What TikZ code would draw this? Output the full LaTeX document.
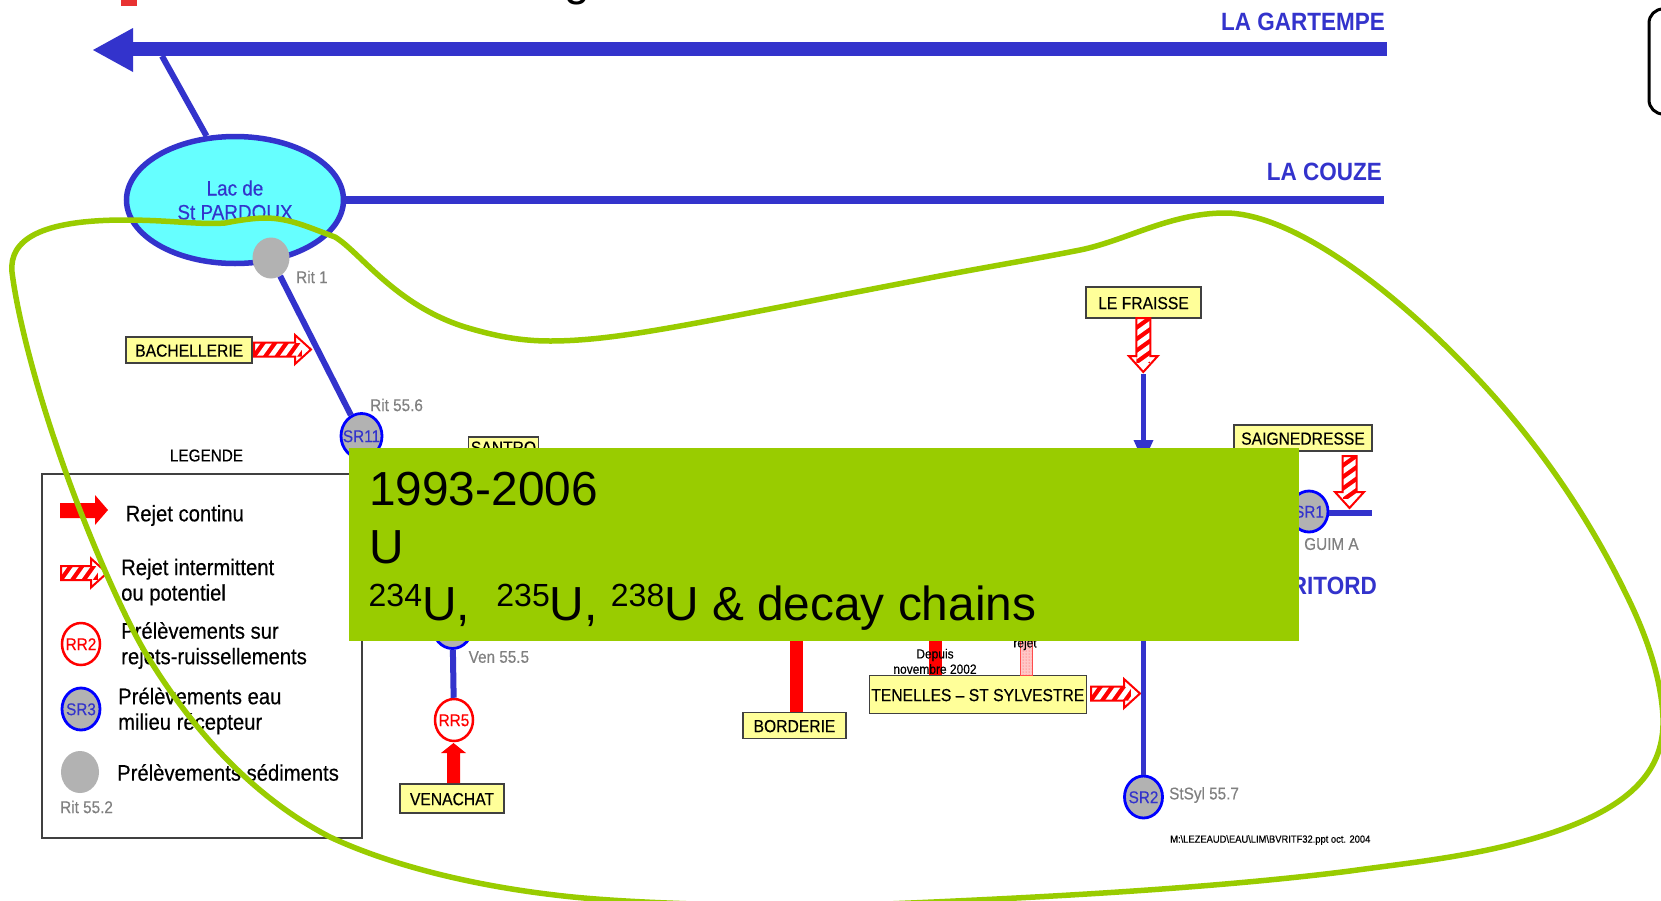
\documentclass[tikz,border=0pt]{standalone}
\usepackage{fontspec}
\setmainfont{Liberation Sans}
\newfontfamily\nar[FakeStretch=0.9,FakeBold=0.35]{Liberation Sans}
\newfontfamily\narb[FakeStretch=0.9]{Liberation Sans Bold}
\usetikzlibrary{shapes.geometric,patterns}
\definecolor{riverblue}{HTML}{3333CC}
\definecolor{purered}{HTML}{FF0000}
\definecolor{boxyellow}{HTML}{FFFF99}
\definecolor{leafgreen}{HTML}{99CC00}
\definecolor{sedgray}{HTML}{B2B2B2}
\definecolor{labgray}{HTML}{808080}
\definecolor{boxline}{HTML}{404040}
\definecolor{lakecyan}{HTML}{66FFFF}
\definecolor{titlered}{HTML}{E83232}
\newcommand{\sz}[1]{\fontsize{#1}{#1}\selectfont}
\newcommand{\ptx}[1]{\makebox[0pt]{\raisebox{-0.36em}[0pt][0pt]{#1}}}
\newcommand{\hatcharrow}[2]{%
  \begin{scope}[#1]
    \pgfmathsetmacro{\hb}{#2-16}
    \fill[white] (0,-7) -- (\hb,-7) -- (\hb,-15) -- (#2,0) -- (\hb,15) -- (\hb,7) -- (0,7) -- cycle;
    \begin{scope}
      \clip (0,-7) -- (\hb,-7) -- (\hb+7,-7) -- (\hb+7,7) -- (0,7) -- cycle;
      \fill[purered] (0,-7) rectangle (\hb+7,7);
      \foreach \k in {0,1,2,3,4,5} {
        \fill[white] ({-9+\k*11.5},7) -- ({-3+\k*11.5},7) -- ({7+\k*11.5},-7) -- ({1+\k*11.5},-7) -- cycle;
      }
    \end{scope}
    \draw[purered,line width=2,line join=miter] (0,-7) -- (\hb,-7) -- (\hb,-14.5) -- (#2,0) -- (\hb,14.5) -- (\hb,7) -- (0,7) -- cycle;
  \end{scope}}
\tikzset{
  namebox/.style={draw=boxline,fill=boxyellow,line width=1.5,inner sep=0,font=\nar\sz{17.4},text=black,text height=13.2pt,text depth=0pt},
  riverlabel/.style={inner sep=0,font=\narb\sz{25},text=riverblue},
  graylabel/.style={inner sep=0,font=\nar\sz{17},text=labgray},
  legendtext/.style={inner sep=0,anchor=west,align=left,font=\nar\fontsize{22.5}{25.5}\selectfont,text=black},
  bluepoint/.style={ellipse,draw=blue,fill=sedgray,line width=2.8,inner sep=0,font=\nar\sz{17},text=riverblue},
  redpoint/.style={ellipse,draw=purered,fill=white,line width=2.5,inner sep=0,font=\nar\sz{17},text=purered},
  sedpoint/.style={ellipse,fill=sedgray,inner sep=0},
  river/.style={draw=riverblue,line width=6},
  redbar/.style={draw=purered,line width=13},
  smalltext/.style={inner sep=0,font=\nar\sz{13.3},text=black},
  bigtext/.style={inner sep=0,anchor=base west,font=\sz{47.8},text=black}
}
\begin{document}
\begin{tikzpicture}[x=1pt,y=-1pt]
\path[use as bounding box,fill=white] (0,0) rectangle (1661,900);
% cut-off title
\fill[titlered] (121,0) rectangle (137,6);
\node[inner sep=0,anchor=base,font=\sz{46}] (titleg) at (577,-4.5) {g};
% coordinates for free ends
\coordinate (gartL) at (133,49);
\coordinate (gartR) at (1387,49);
\coordinate (branch) at (162,56);
\coordinate (couzeR) at (1384,200);
% rivers
\draw[draw=riverblue,line width=14] (gartL) -- (gartR);
\fill[riverblue] (93,50) -- (133,28) -- (133,72) -- cycle;
\node[riverlabel,anchor=east] (gartlab) at (1385,22) {LA GARTEMPE};
\node[riverlabel,anchor=east] (couzelab) at (1382,172) {LA COUZE};
\node[riverlabel,anchor=east] (ritordlab) at (1377,586) {RITORD};
% lake
\node[ellipse,draw=riverblue,fill=lakecyan,line width=5.5,minimum width=217,minimum height=127,inner sep=0,
      align=center,text=riverblue,font=\nar\fontsize{21}{24}\selectfont] (lake) at (235,200) {Lac de\\St PARDOUX};
\draw[draw=riverblue,line width=6] (branch) -- (lake.114);
\draw[draw=riverblue,line width=7.5] (lake.east) -- (couzeR);
% points on the river
\node[sedpoint,minimum width=37,minimum height=41] (rit1) at (271,258) {};
\node[bluepoint,minimum width=41,minimum height=45] (sr11) at (361.5,436) {\ptx{SR11}};
\draw[river] (rit1) -- (sr11);
\node[graylabel,anchor=west] (rit1lab) at (296,277) {Rit 1};
\node[graylabel,anchor=west] (rit56lab) at (370,405) {Rit 55.6};
\node[namebox,minimum width=126,minimum height=26] (bach) at (189.2,350) {BACHELLERIE};
\hatcharrow{shift={(254,349.5)}}{57}
\node[namebox,minimum width=70,minimum height=20] (santro) at (503.5,447) {SANTRO};
% Venachat branch
\node[bluepoint,minimum width=40,minimum height=45] (ven) at (452.5,626) {};
\node[redpoint,minimum width=38,minimum height=42] (rr5) at (454,720) {\ptx{RR5}};
\draw[river] (ven) -- (rr5);
\node[graylabel,anchor=west] (venlab) at (468.5,657) {Ven 55.5};
\node[namebox,minimum width=104,minimum height=29] (venachat) at (452,798.5) {VENACHAT};
\fill[purered] (447,783) -- (447,753) -- (441,753) -- (453.5,743) -- (466,753) -- (460,753) -- (460,783) -- cycle;
% Borderie
\coordinate (bordtop) at (796.5,620);
\node[namebox,minimum width=103,minimum height=26] (borderie) at (794.5,725.5) {BORDERIE};
\draw[redbar] (bordtop) -- (bordtop |- borderie.north);
% Tenelles
\coordinate (tentop) at (935,620);
\node[namebox,minimum width=217,minimum height=38] (tenelles) at (977.8,694.5) {TENELLES – ST SYLVESTRE};
\draw[redbar] (tentop) -- (tentop |- tenelles.north);
\fill[red!22] (1020,620) rectangle (1032.5,675);
\fill[pattern=dots,pattern color=red!70] (1020,620) rectangle (1032.5,675);
\draw[purered!70,line width=0.8] (1020,620) rectangle (1032.5,675);
\node[smalltext] (depuis) at (935,655) {Depuis};
\node[smalltext] (novembre) at (935,669) {novembre 2002};
\node[smalltext] (rejet) at (1025,644) {rejet};
\hatcharrow{shift={(1091,693.5)}}{49}
% Le Fraisse / main stream
\node[namebox,minimum width=115,minimum height=31] (fraisse) at (1143.5,302.5) {LE FRAISSE};
\hatcharrow{shift={(1143.3,318)},rotate=-90,yscale=-1}{54}
\coordinate (fraisseEnd) at (1143.5,374);
\node[bluepoint,minimum width=38,minimum height=42] (sr2) at (1143.5,797) {\ptx{SR2}};
\draw[draw=riverblue,line width=5] (fraisseEnd) -- (sr2);
\fill[riverblue] (1133.5,440) -- (1153.5,440) -- (1143.5,462) -- cycle;
\node[graylabel,anchor=west] (stsyl) at (1169,795) {StSyl 55.7};
\node[inner sep=0,anchor=east,font=\nar\sz{10.4}] (fileref) at (1370.5,840) {M:\textbackslash LEZEAUD\textbackslash EAU\textbackslash LIM\textbackslash BVRITF32.ppt oct. 2004};
\hatcharrow{shift={(1349.5,456)},rotate=-90,yscale=-1}{52}
\node[namebox,minimum width=138,minimum height=26] (saign) at (1303,438) {SAIGNEDRESSE};
\coordinate (sr1end) at (1372,513);
\node[bluepoint,minimum width=38,minimum height=41] (sr1) at (1309,511.5) {\ptx{SR1}};
\draw[draw=riverblue,line width=6.5] (sr1end -| sr1.east) -- (sr1end);
\node[graylabel,anchor=west] (guim) at (1304,544) {GUIM A};
% legend
\node[inner sep=0,font=\nar\sz{17}] (legtitle) at (206.5,455.5) {LEGENDE};
\draw[draw=boxline,line width=2] (42,474) rectangle (362,838);
\fill[purered] (60,503) -- (95,503) -- (95,495) -- (108,510) -- (95,525) -- (95,518) -- (60,518) -- cycle;
\node[legendtext] (leg1) at (125.5,515.5) {Rejet continu};
\hatcharrow{shift={(61,573)}}{46}
\node[legendtext] (leg2) at (121,582) {Rejet intermittent\\ou potentiel};
\node[redpoint,minimum width=38,minimum height=42] (rr2) at (81,644) {\ptx{RR2}};
\node[legendtext] (leg3) at (121,645.5) {Prélèvements sur\\rejets-ruissellements};
\node[bluepoint,minimum width=38,minimum height=42] (sr3) at (81,709) {\ptx{SR3}};
\node[legendtext] (leg4) at (118,711) {Prélèvements eau\\milieu récepteur};
\node[sedpoint,minimum width=38,minimum height=42] (legsed) at (80,772) {};
\node[legendtext] (leg5) at (117,772.5) {Prélèvements sédiments};
\node[graylabel,anchor=west] (rit52) at (60,807) {Rit 55.2};
% green panel
\node[fill=leafgreen,inner sep=0,anchor=north west,minimum width=950,minimum height=193] (panel) at (349,448) {};
\node[bigtext] (p1) at (369,505) {1993-2006};
\node[bigtext] (p2) at (369,563) {U};
\node[bigtext] (p3) at (368.5,620) {\raisebox{14pt}{\sz{32}234}U,\ \ \raisebox{14pt}{\sz{32}235}U, \raisebox{14pt}{\sz{32}238}U \& decay chains};
% black rounded frame, cut by the page edge
\draw[black,line width=3,rounded corners=14] (1649,9) rectangle (1720,114);
% green outline
\draw[leafgreen,line width=5.5,line join=round]
  (12,272) .. controls (9,240) and (40,220) .. (125,220)
  .. controls (170,220) and (200,225) .. (225,223)
  .. controls (240,220) and (255,218) .. (265,218)
  .. controls (290,218) and (310,228) .. (335,237)
  .. controls (360,252) and (395,305) .. (465,327)
  .. controls (495,336) and (520,341) .. (550,341)
  .. controls (620,341) and (700,322) .. (919,280)
  .. controls (980,268) and (1030,260) .. (1080,250)
  .. controls (1125,241) and (1170,213) .. (1225,213)
  .. controls (1290,213) and (1390,285) .. (1479,380)
  .. controls (1540,445) and (1590,520) .. (1625,592)
  .. controls (1640,622) and (1661,670) .. (1663,718)
  .. controls (1665,775) and (1625,815) .. (1517,843)
  .. controls (1460,858) and (1400,864) .. (1350,871)
  .. controls (1200,890) and (1000,900) .. (810,907)
  .. controls (720,905) and (620,903) .. (555,895)
  .. controls (470,885) and (390,865) .. (330,837)
  .. controls (270,806) and (205,750) .. (148,657)
  .. controls (125,620) and (85,530) .. (57,447)
  .. controls (38,392) and (18,320) .. (12,272) -- cycle;
\end{tikzpicture}
\end{document}
